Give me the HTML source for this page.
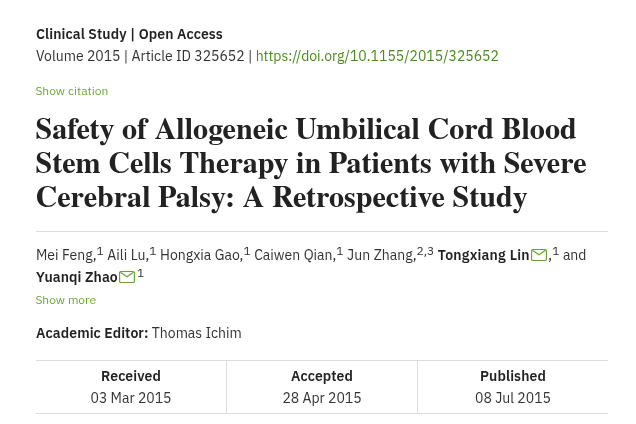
<!DOCTYPE html>
<html><head><meta charset="utf-8">
<style>
*{margin:0;padding:0;box-sizing:border-box}
html,body{width:636px;height:424px;overflow:hidden;background:#fff}
body{font-family:"IBM Plex Sans","Liberation Sans",sans-serif;color:#333;position:relative}
.abs{position:absolute;white-space:nowrap}
.type{left:36px;top:25px;font-size:14px;font-weight:600;letter-spacing:0.1px;color:#222;line-height:18px}
.vol{left:36px;top:47px;font-size:14px;color:#333;line-height:18px}
.vol a{color:#4a8a1c;text-decoration:none}
.cite{left:35.4px;top:84px;font-size:12px;color:#6aa838;line-height:14px}
h1{position:absolute;left:35.5px;top:110px;font-family:"TeX Gyre Termes","Liberation Serif",serif;font-weight:700;font-size:30.1px;line-height:34px;color:#222;white-space:nowrap}
.hr{position:absolute;left:36px;width:572px;top:231px;height:1px;background:#ddd}
.auth{left:36px;top:244px;font-size:14px;color:#333;line-height:22px;word-spacing:0.25px}
.auth b{color:#222;font-weight:600;letter-spacing:0.1px}
.auth sup{font-size:12px;vertical-align:5px;line-height:0}
.more{left:35.4px;top:293px;font-size:12px;color:#6aa838;line-height:14px}
.ed{left:36px;top:324px;font-size:14px;color:#333;line-height:18px}
.ed b{color:#222;font-weight:600;letter-spacing:0.1px}
.tbl{position:absolute;left:36px;top:360px;width:572px;height:54px;border-top:1px solid #ddd;border-bottom:1px solid #ddd;display:flex}
.tbl div{flex:1;text-align:center;font-size:14px;color:#333;padding-top:4px;line-height:22px}
.tbl div+div{border-left:1px solid #ddd}
.tbl b{display:block;color:#222;font-weight:600;letter-spacing:0.1px}
.mail{display:inline-block;vertical-align:-1px;margin-left:1.6px;margin-right:1px}
</style></head><body>
<div class="abs type">Clinical Study | Open Access</div>
<div class="abs vol">Volume 2015 | Article ID 325652 | <a>https://doi.org/10.1155/2015/325652</a></div>
<div class="abs cite">Show citation</div>
<h1>Safety of Allogeneic Umbilical Cord Blood<br>Stem Cells Therapy in Patients with Severe<br>Cerebral Palsy: A Retrospective Study</h1>
<div class="hr"></div>
<div class="abs auth">Mei Feng,<sup>1</sup> Aili Lu,<sup>1</sup> Hongxia Gao,<sup>1</sup> Caiwen Qian,<sup>1</sup> Jun Zhang,<sup>2,3</sup> <b style="letter-spacing:0.22px">Tongxiang Lin</b><svg class="mail" width="16" height="13" viewBox="0 0 16 13"><rect x="0.6" y="1.5" width="14.8" height="11" rx="1.3" fill="none" stroke="#64a636" stroke-width="1.15"/><path d="M1.5 2.2L8 6.8L14.5 2.2" fill="none" stroke="#64a636" stroke-width="1.15"/></svg>,<sup>1</sup> and<br><b>Yuanqi Zhao</b><svg class="mail" style="margin-left:1.2px;margin-right:2px" width="16" height="13" viewBox="0 0 16 13"><rect x="0.6" y="1.5" width="14.8" height="11" rx="1.3" fill="none" stroke="#64a636" stroke-width="1.15"/><path d="M1.5 2.2L8 6.8L14.5 2.2" fill="none" stroke="#64a636" stroke-width="1.15"/></svg><sup>1</sup></div>
<div class="abs more">Show more</div>
<div class="abs ed"><b>Academic Editor:</b> Thomas Ichim</div>
<div class="tbl"><div><b>Received</b>03 Mar 2015</div><div><b>Accepted</b>28 Apr 2015</div><div><b>Published</b>08 Jul 2015</div></div>
</body></html>
